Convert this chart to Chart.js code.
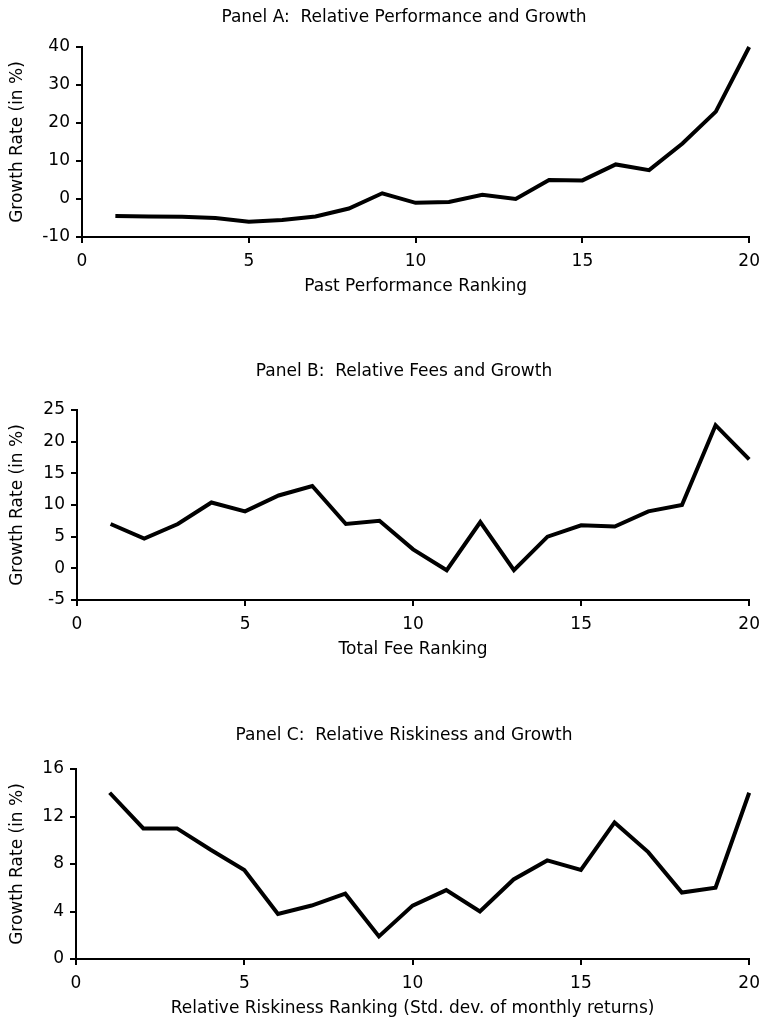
<!DOCTYPE html>
<html>
<head>
<meta charset="utf-8">
<script src="https://cdn.jsdelivr.net/npm/chart.js@4.4.1/dist/chart.umd.min.js"></script>
<style>
  body { margin: 0; background: #ffffff; }
  #wrap { position: relative; width: 768px; height: 1021px; }
  canvas { position: absolute; left: 0; }
</style>
</head>
<body>
<div id="wrap">
  <canvas id="panel-a" width="768" height="320" style="top:0px"></canvas>
  <canvas id="panel-b" width="768" height="330" style="top:330px"></canvas>
  <canvas id="panel-c" width="768" height="361" style="top:660px"></canvas>
</div>
<script>
const rankings = [1, 2, 3, 4, 5, 6, 7, 8, 9, 10, 11, 12, 13, 14, 15, 16, 17, 18, 19, 20];

// growth rate (in %) per ranking group
const perfGrowth = [-4.5, -4.6, -4.7, -5.0, -6.0, -5.5, -4.6, -2.5, 1.5, -1.0, -0.8, 1.1, 0.0, 5.0, 4.9, 9.1, 7.6, 14.6, 23.0, 40.0];
const feeGrowth = [7.0, 4.7, 7.0, 10.4, 9.0, 11.5, 13.0, 7.0, 7.5, 3.0, -0.3, 7.3, -0.3, 5.0, 6.8, 6.6, 9.0, 10.0, 22.6, 17.2];
const riskGrowth = [14.0, 11.0, 11.0, 9.2, 7.5, 3.8, 4.5, 5.5, 1.9, 4.5, 5.8, 4.0, 6.7, 8.3, 7.5, 11.5, 9.0, 5.6, 6.0, 14.0];

const xTicks = [0, 5, 10, 15, 20];
const perfTicks = [-10, 0, 10, 20, 30, 40];
const feeTicks = [-5, 0, 5, 10, 15, 20, 25];
const riskTicks = [0, 4, 8, 12, 16];

const FONT = "'DejaVu Sans', 'Liberation Sans', Arial, sans-serif";

// panel title (sits a bit left of the plot centre in the original)
const panelTitle = {
  id: "panelTitle",
  afterDraw(chart, args, opts) {
    const ctx = chart.ctx;
    ctx.save();
    ctx.font = "17px " + FONT;
    ctx.fillStyle = "#000";
    ctx.textAlign = "center";
    ctx.textBaseline = "middle";
    ctx.fillText(opts.text, opts.x, opts.y);
    ctx.restore();
  },
};

function createPanel(id, cfg) {
  const canvas = document.getElementById(id);
  const h = canvas.height;
  new Chart(canvas.getContext("2d"), {
    type: "line",
    data: {
      datasets: [
        {
          data: rankings.map((r, i) => ({ x: r, y: cfg.values[i] })),
          borderColor: "#000",
          borderWidth: 4,
          pointRadius: 0,
          tension: 0,
          clip: 6,
        },
      ],
    },
    options: {
      responsive: false,
      animation: false,
      layout: {
        padding: { top: cfg.top, left: 0, right: 768 - cfg.right, bottom: h - cfg.bottom - 60 },
      },
      plugins: {
        legend: { display: false },
        tooltip: { enabled: false },
        panelTitle: { text: cfg.title, x: 404, y: cfg.titleY },
      },
      scales: {
        x: {
          type: "linear",
          min: 0,
          max: 20,
          afterBuildTicks: (scale) => {
            scale.ticks = xTicks.map((v) => ({ value: v }));
          },
          afterFit: (scale) => {
            scale.height = 60;
          },
          ticks: { color: "#000", font: { family: FONT, size: 17 }, padding: 8, maxRotation: 0 },
          grid: { drawOnChartArea: false, color: "#000", lineWidth: 2, tickLength: 6 },
          border: { color: "#000", width: 2 },
          title: {
            display: true,
            text: cfg.xTitle,
            color: "#000",
            font: { family: FONT, size: 17 },
            padding: { top: 0, bottom: 0 },
          },
        },
        y: {
          min: cfg.yTicks[0],
          max: cfg.yTicks[cfg.yTicks.length - 1],
          afterBuildTicks: (scale) => {
            scale.ticks = cfg.yTicks.map((v) => ({ value: v }));
          },
          afterFit: (scale) => {
            scale.width = cfg.left;
          },
          ticks: { color: "#000", font: { family: FONT, size: 17 }, padding: 6 },
          grid: { drawOnChartArea: false, color: "#000", lineWidth: 2, tickLength: 6 },
          border: { color: "#000", width: 2 },
          title: {
            display: true,
            text: "Growth Rate (in %)",
            color: "#000",
            font: { family: FONT, size: 17 },
            padding: { top: 7, bottom: 0 },
          },
        },
      },
    },
    plugins: [panelTitle],
  });
}

// Panel A
createPanel("panel-a", {
  title: "Panel A:  Relative Performance and Growth",
  xTitle: "Past Performance Ranking",
  values: perfGrowth,
  yTicks: perfTicks,
  titleY: 18,
  top: 47,
  bottom: 237,
  left: 82,
  right: 756,
});

// Panel B
createPanel("panel-b", {
  title: "Panel B:  Relative Fees and Growth",
  xTitle: "Total Fee Ranking",
  values: feeGrowth,
  yTicks: feeTicks,
  titleY: 42,
  top: 80,
  bottom: 270,
  left: 77,
  right: 756,
});

// Panel C
createPanel("panel-c", {
  title: "Panel C:  Relative Riskiness and Growth",
  xTitle: "Relative Riskiness Ranking (Std. dev. of monthly returns)",
  values: riskGrowth,
  yTicks: riskTicks,
  titleY: 76,
  top: 109,
  bottom: 299,
  left: 76,
  right: 757,
});
</script>
</body>
</html>
